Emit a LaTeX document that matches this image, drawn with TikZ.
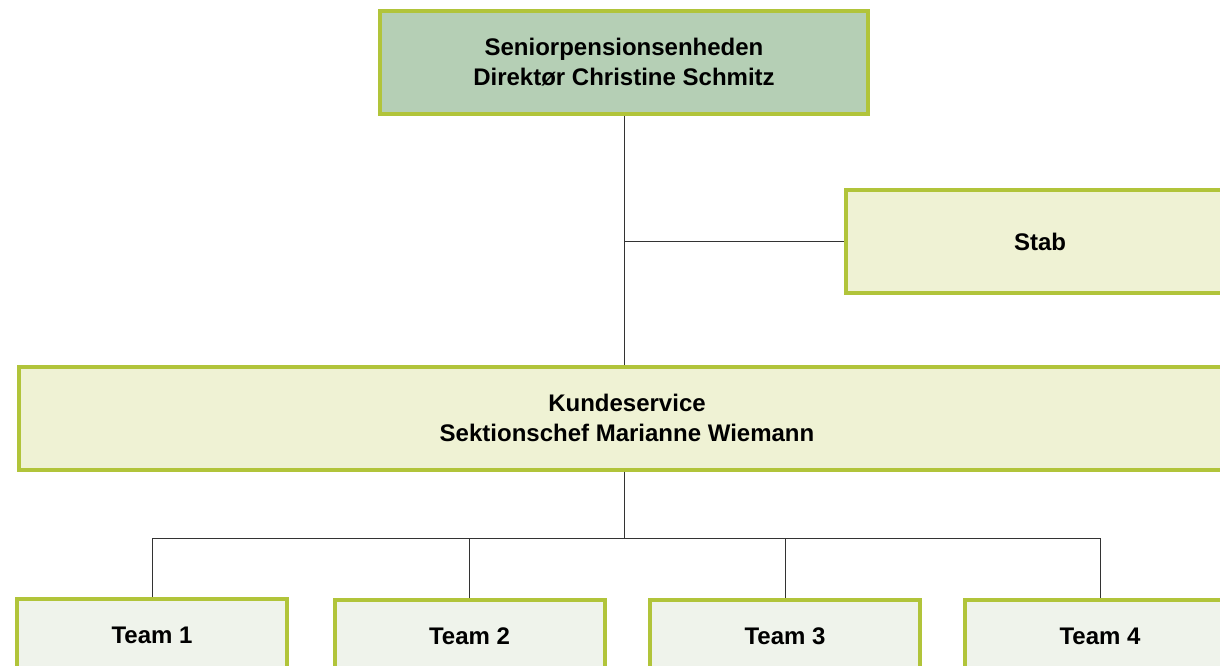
\documentclass[tikz,border=0pt]{standalone}
\usepackage{fontspec}
\setmainfont{Liberation Sans}
\definecolor{boxline}{HTML}{B1C43A}
\definecolor{headfill}{HTML}{B5CFB5}
\definecolor{unitfill}{HTML}{EFF2D4}
\definecolor{teamfill}{HTML}{EFF3EB}
\definecolor{linkgray}{HTML}{333333}
\tikzset{every picture/.style={line width=0.75pt}}

\begin{document}
\begin{tikzpicture}[x=0.75pt,y=0.75pt,yscale=-1,xscale=1,
		unit/.style={draw=boxline, line width=3pt, fill=unitfill, align=center, inner sep=0pt,
			font=\bfseries\fontsize{18}{22.5}\selectfont},
		team/.style={unit, fill=teamfill, minimum width={270*0.75pt}, minimum height={72*0.75pt}},
		link/.style={draw=linkgray, line width=0.75pt}]
			%set diagram to 1220 x 665
			\useasboundingbox (0,0) rectangle (1220,665);
			\clip (0,0) rectangle (1220,665);
			
			%Boxes
			\node [unit, fill=headfill, minimum width={488*0.75pt}, minimum height={103*0.75pt}] (head) at (624,62.5) {Seniorpensionsenheden\\Direktør Christine Schmitz};
			\node [unit, minimum width={388*0.75pt}, minimum height={103*0.75pt}] (stab) at (1040,241.5) {Stab};
			\node [unit, minimum width={1216*0.75pt}, minimum height={103*0.75pt}] (kunde) at (627,418) {Kundeservice\\Sektionschef Marianne Wiemann};
			\node [team] (team1) at (152,635) {Team 1};
			\node [team] (team2) at (469.5,636) {Team 2};
			\node [team] (team3) at (785,636) {Team 3};
			\node [team] (team4) at (1100,636) {Team 4};
			\coordinate (bus) at (625,538);
			
			%Straight Lines
			\draw [link] (head.south) -- (head.south |- kunde.north) ;
			\draw [link] (stab.west) -- (stab.west -| head.south) ;
			\draw [link] (head.south |- kunde.south) -- (head.south |- bus) ;
			\draw [link] (team1.north) -- (team1.north |- bus) -- (team4.north |- bus) -- (team4.north) ;
			\draw [link] (team2.north) -- (team2.north |- bus) ;
			\draw [link] (team3.north) -- (team3.north |- bus) ;
			
\end{tikzpicture}
\end{document}
